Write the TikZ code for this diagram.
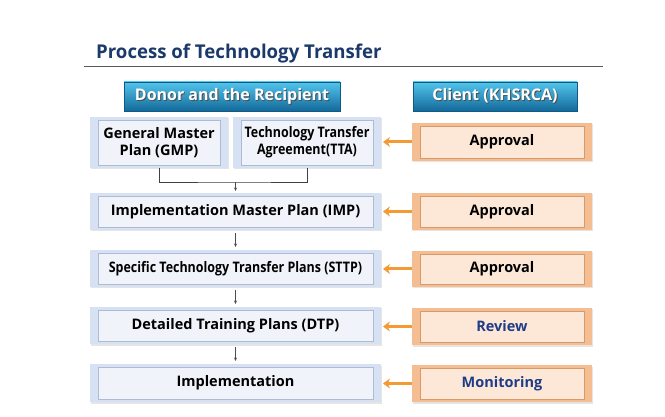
\documentclass[tikz,border=0pt]{standalone}
\usepackage{fontspec}
\setmainfont{Open Sans}
\usetikzlibrary{shadows,arrows.meta}
\definecolor{titlec}{HTML}{1B3A6B}
\definecolor{hdtop}{HTML}{52C5EC}
\definecolor{hdbot}{HTML}{13699A}
\definecolor{hdline}{HTML}{0E5A85}
\definecolor{lout}{HTML}{D6E2F3}
\definecolor{lin}{HTML}{F0F4FA}
\definecolor{linb}{HTML}{AEBBD0}
\definecolor{oout}{HTML}{F4BE92}
\definecolor{oin}{HTML}{FDE8D8}
\definecolor{oinb}{HTML}{D89A6A}
\definecolor{oarr}{HTML}{F39A35}
\definecolor{revc}{HTML}{1F3C88}
\newcommand{\shtxt}[1]{\makebox[0pt][l]{\raisebox{-0.9pt}{\hspace{0.9pt}\textcolor{black!70}{#1}}}#1}
\begin{document}
\begin{tikzpicture}[x=1pt,y=-1pt,
  header/.style={draw=hdline, top color=hdtop, bottom color=hdbot, inner sep=0pt, outer sep=0pt,
    text=white, font=\fontsize{16}{18}\selectfont\bfseries, drop shadow={shadow xshift=1pt, shadow yshift=-1.2pt, opacity=0.3}},
  lbox/.style={fill=lout, inner sep=0pt, outer sep=0pt, align=center,
    font=\fontsize{14.5}{17}\selectfont\bfseries,
    drop shadow={shadow xshift=1pt, shadow yshift=-1.5pt, opacity=0.2},
    path picture={\draw[linb, fill=lin, line width=0.5pt]
      ([xshift=8pt,yshift=-3pt]path picture bounding box.north west) rectangle
      ([xshift=-8pt,yshift=3pt]path picture bounding box.south east);}},
  obox/.style={fill=oout, inner sep=0pt, outer sep=0pt, align=center,
    font=\fontsize{14.5}{17}\selectfont\bfseries,
    drop shadow={shadow xshift=1pt, shadow yshift=-1.5pt, opacity=0.2},
    minimum width=180pt,
    path picture={\draw[oinb, fill=oin, line width=0.5pt]
      ([xshift=8pt,yshift=-3pt]path picture bounding box.north west) rectangle
      ([xshift=-8pt,yshift=3pt]path picture bounding box.south east);}},
  varrow/.style={draw=black!70, line width=0.6pt, -{Stealth[length=3.5pt,width=3pt]}},
  oarrow/.style={draw=oarr, line width=3pt, -{Stealth[length=7pt,width=10pt]}, shorten >=2pt}
]
\useasboundingbox (0,0) rectangle (665,417);
\fill[white] (0,0) rectangle (665,417);
% title
\node[anchor=base west, inner sep=0pt, text=titlec, font=\fontsize{19}{22}\selectfont\bfseries] (title) at (96,59) {\scalebox{0.98}[1]{Process of Technology Transfer}};
\coordinate (l1) at (84,67);
\coordinate (l2) at (603,67);
\draw[black!65, line width=1pt] (l1) -- (l2);
% headers
\node[header, minimum width=216pt, minimum height=29pt] (hd1) at (232,96.5) {\shtxt{Donor and the Recipient}};
\node[header, minimum width=164pt, minimum height=29pt] (hd2) at (495,96.5) {\shtxt{Client (KHSRCA)}};
% left boxes
\node[lbox, minimum width=138pt, minimum height=51pt] (gmp) at (159,142.5) {General Master\\Plan (GMP)};
\node[lbox, minimum width=148pt, minimum height=51pt] (tta) at (307,142.5) {\scalebox{0.86}[1]{Technology Transfer}\\\scalebox{0.86}[1]{Agreement(TTA)}};
\node[lbox, minimum width=291pt, minimum height=37pt] (imp) at (235.5,211.5) {Implementation Master Plan (IMP)};
\node[lbox, minimum width=291pt, minimum height=37pt] (sttp) at (235.5,268.5) {\scalebox{0.86}[1]{Specific Technology Transfer Plans (STTP)}};
\node[lbox, minimum width=291pt, minimum height=37pt] (dtp) at (235.5,325.5) {Detailed Training Plans (DTP)};
\node[lbox, minimum width=291pt, minimum height=38pt] (impl) at (235.5,383) {Implementation};
% right boxes
\node[obox, minimum height=38pt] (a1) at (502,142) {Approval};
\node[obox, minimum height=37pt] (a2) at (502,211.5) {Approval};
\node[obox, minimum height=36pt] (a3) at (502,269) {Approval};
\node[obox, minimum height=37pt, text=revc] (a4) at (502,326.5) {Review};
\node[obox, minimum height=37pt, text=revc] (a5) at (502,383.5) {Monitoring};
% connectors
\coordinate (j) at (235.5,182);
\draw[black!75, line width=0.7pt] (gmp.south) |- (j) -| (tta.south);
\draw[varrow, shorten >=2pt] (j) -- (imp.north);
\draw[varrow, shorten <=3pt, shorten >=3pt] (imp) -- (sttp);
\draw[varrow, shorten <=3pt, shorten >=3pt] (sttp) -- (dtp);
\draw[varrow, shorten <=3pt, shorten >=3pt] (dtp) -- (impl);
\draw[oarrow] (a1.west) -- (a1.west -| tta.east);
\draw[oarrow] (a2.west) -- (a2.west -| imp.east);
\draw[oarrow] (a3.west) -- (a3.west -| sttp.east);
\draw[oarrow] (a4.west) -- (a4.west -| dtp.east);
\draw[oarrow] (a5.west) -- (a5.west -| impl.east);
\end{tikzpicture}
\end{document}
